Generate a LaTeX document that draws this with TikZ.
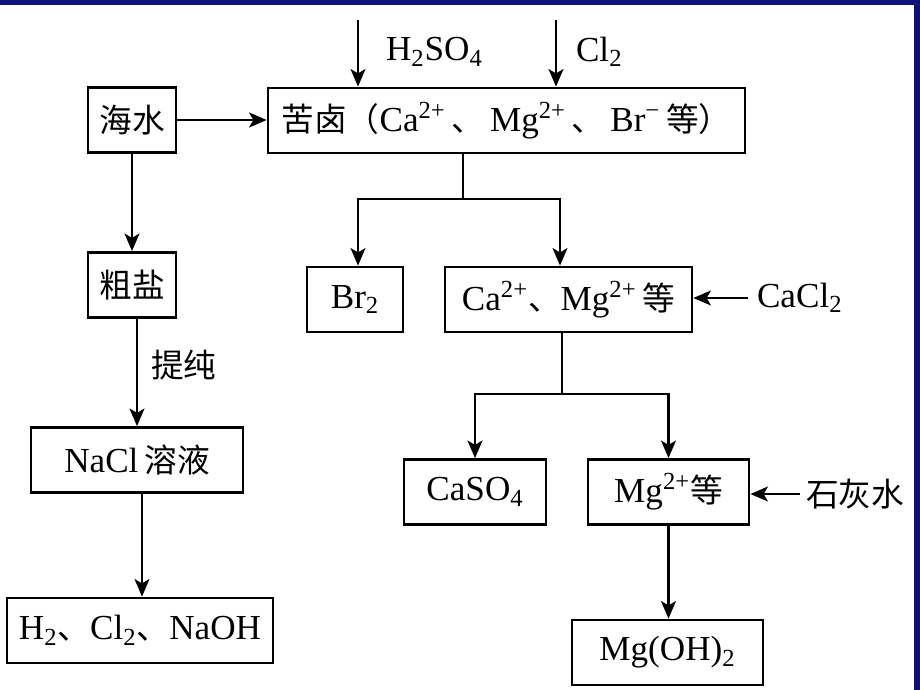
\documentclass[tikz,border=0pt]{standalone}
\usepackage{fontspec}
\setmainfont{Liberation Serif}
\newfontfamily\cjk[Scale=0.93]{Noto Sans CJK SC}
\usepackage{tikz}
\usetikzlibrary{arrows.meta, positioning}
\definecolor{slideblue}{RGB}{14,18,118}

\begin{document}
\begin{tikzpicture}[x=0.02cm, y=-0.02cm, >={Stealth[length=10pt,width=8.5pt,inset=2.5pt]}, line width=1.2pt,
	box/.style={draw, line width=1.6pt, inner sep=0pt, minimum height=1.3cm, font=\fontsize{20}{24}\selectfont},
	lbl/.style={inner sep=0pt, font=\fontsize{20}{24}\selectfont}]

	\useasboundingbox (0,0) rectangle (920,690);
	\fill[slideblue] (0,0) rectangle (920,5);
	\fill[slideblue] (914,0) rectangle (920,690);

	\node[box, minimum width=1.76cm]	(HS)	at	(132,120)	{\cjk 海水};
	\node[box, minimum width=1.76cm]	(CY)	at	(132,285)	{\cjk 粗盐};
	\node[box, minimum width=9.54cm]	(KL)	at	(506.5,120.5)	{{\cjk 苦卤（}Ca\textsuperscript{2+}\,{\cjk 、}\,Mg\textsuperscript{2+}\,{\cjk 、}\,Br\textsuperscript{−}\,{\cjk 等）}};
	\node[box, minimum width=1.92cm]	(BR)	at	(355,299.5)	{Br\textsubscript{2}};
	\node[box, minimum width=4.94cm]	(CA)	at	(568.5,299.5)	{Ca\textsuperscript{2+}{\cjk 、}Mg\textsuperscript{2+}\,{\cjk 等}};
	\node[box, minimum width=2.84cm]	(CS)	at	(475,492)	{CaSO\textsubscript{4}};
	\node[box, minimum width=3.22cm]	(MG)	at	(668.5,492)	{Mg\textsuperscript{2+}{\cjk 等}};
	\node[box, minimum width=3.82cm]	(MO)	at	(667.5,652.5)	{Mg(OH)\textsubscript{2}};
	\node[box, minimum width=4.24cm]	(NC)	at	(137,460)	{NaCl\,{\cjk 溶液}};
	\node[box, minimum width=5.32cm]	(PR)	at	(140,630.5)	{H\textsubscript{2}{\cjk 、}Cl\textsubscript{2}{\cjk 、}NaOH};

	\node[lbl, anchor=west]	(h2so4)	at	(385,52)	{H\textsubscript{2}SO\textsubscript{4}};
	\node[lbl, anchor=west]	(cl2)	at	(575,52)	{Cl\textsubscript{2}};
	\node[lbl, anchor=west]	(tichun)	at	(150,365)	{\cjk 提纯};
	\node[lbl, anchor=west]	(cacl)	at	(748,298)	{\hspace{0.16cm}CaCl\textsubscript{2}};
	\node[lbl, anchor=west]	(shh)	at	(800,494)	{\hspace{0.1cm}{\cjk 石灰水}};

	\coordinate	(in1)	at	(358,20);
	\coordinate	(in2)	at	(556,20);
	\coordinate	(j1)	at	(463,199);
	\coordinate	(j2)	at	(562,394);

	\draw[->] (in1) -- (in1 |- KL.north);
	\draw[->] (in2) -- (in2 |- KL.north);
	\draw[->, line width=1.6pt] (HS.east) -- (HS.east -| KL.west);
	\draw[->] (HS) -- (CY);
	\draw[->] (NC.north |- CY.south) -- (NC.north);
	\draw[->] ([xshift=0.1cm]NC.south) -- ([xshift=0.1cm]NC.south |- PR.north);

	\draw (KL.south -| j1) -- (j1);
	\draw[->] (j1) -| ([xshift=0.06cm]BR.north);
	\draw[->] (j1) -| ([xshift=-0.17cm]CA.north);
	\draw[->] (cacl.west) -- (cacl.west -| CA.east);

	\draw (CA.south -| j2) -- (j2);
	\draw[->] (j2) -| (CS.north);
	\draw[->] (j2) -| (MG.north);
	\draw[->] (shh.west) -- (shh.west -| MG.east);
	\draw[->] (MG.south) -- (MG.south |- MO.north);
\end{tikzpicture}
\end{document}
